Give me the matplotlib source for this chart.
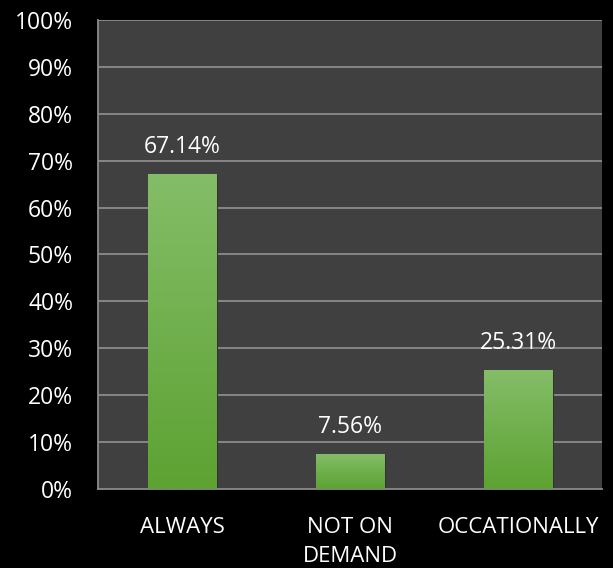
import matplotlib
matplotlib.use("Agg")
import matplotlib.pyplot as plt
import numpy as np
from matplotlib.colors import LinearSegmentedColormap
from matplotlib.ticker import FuncFormatter

categories = ["ALWAYS", "NOT ON\nDEMAND", "OCCATIONALLY"]
values = [67.14, 7.56, 25.31]
labels = ["67.14%", "7.56%", "25.31%"]

plt.rcParams['font.family'] = ['Open Sans', 'DejaVu Sans']

fig = plt.figure(figsize=(6.13, 5.68), dpi=100, facecolor='black')
ax = fig.add_axes([0.160, 0.139, 0.822, 0.826])
ax.set_facecolor('#404040')

x = np.arange(len(categories))
width = 0.405
ax.set_xlim(-0.5, len(categories) - 0.5)
ax.set_ylim(0, 100)

for v in range(10, 101, 10):
    ax.axhline(v, color='#8c8c8c', lw=1.3, zorder=1)

cmap = LinearSegmentedColormap.from_list('g', ['#5da232', '#84bd68'])
grad = np.linspace(0, 1, 256).reshape(-1, 1)
bars = ax.bar(x, values, width, color='none', zorder=3)
for b in bars:
    x0, y0 = b.get_x(), b.get_y()
    w, h = b.get_width(), b.get_height()
    # shadow
    ax.bar(x0 + w / 2 + 0.012, h, w, bottom=0, color='#333333', zorder=2)
    im = ax.imshow(grad, extent=[x0, x0 + w, y0, y0 + h], origin='lower',
                   cmap=cmap, aspect='auto', zorder=3)
    im.set_clip_path(b)

for xi, v, lab in zip(x, values, labels):
    ax.text(xi, v + 3.2, lab, ha='center', va='bottom', color='white', fontsize=16.5)

ax.set_xticks(x)
ax.set_xticklabels(categories, color='white', fontsize=16, linespacing=1.5)
ax.set_yticks(range(0, 101, 10))
ax.yaxis.set_major_formatter(FuncFormatter(lambda v, p: f"{int(v)}%"))
ax.tick_params(axis='y', colors='white', labelsize=16.5, length=0, pad=18)
ax.tick_params(axis='x', colors='white', length=0, pad=20)

for s in ['top', 'right']:
    ax.spines[s].set_visible(False)
ax.spines['left'].set_color('#8c8c8c')
ax.spines['left'].set_linewidth(1.3)
ax.spines['bottom'].set_color('#8c8c8c')
ax.spines['bottom'].set_linewidth(1.3)
ax.set_xlim(-0.5, len(categories) - 0.5)
ax.set_ylim(0, 100)

fig.savefig('out.png', dpi=100, facecolor='black')
